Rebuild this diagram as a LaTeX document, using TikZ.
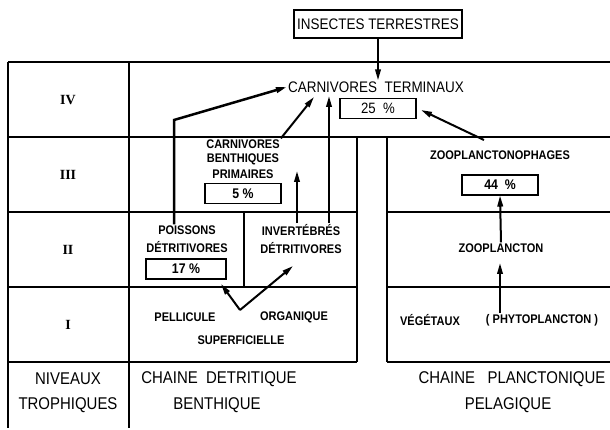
\documentclass[tikz,border=0pt]{standalone}
\usepackage{fontspec}
\setmainfont{Liberation Sans}[FakeStretch=0.88]
\newfontfamily\romfont{Liberation Serif}
\usetikzlibrary{arrows.meta}

\begin{document}
\begin{tikzpicture}[x=1pt,y=-1pt,
        tabline/.style={line width=1.1pt},
        arr/.style={line width=2pt,-{Triangle[length=11pt,width=5.5pt]}},
        big/.style={font=\fontsize{15.3}{17}\selectfont, inner sep=1pt},
        lbl/.style={font=\fontsize{12.5}{14}\selectfont\bfseries, align=center, inner sep=1pt},
        foot/.style={font=\fontsize{17}{19}\selectfont, inner sep=1pt},
        pct/.style={draw, line width=1.1pt, minimum width=76pt, minimum height=20pt, inner sep=1pt,
                    font=\fontsize{14}{15}\selectfont\bfseries},
        lvl/.style={font=\fontsize{14}{16}\romfont\bfseries}]
        \useasboundingbox (0,0) rectangle (610,430);

        \foreach \y in {62,137}
            \draw[tabline] (8,\y) -- (610,\y);
        \foreach \y in {212,287,362} {
            \draw[tabline] (8,\y) -- (357,\y);
            \draw[tabline] (387,\y) -- (610,\y);
        }
        \draw[tabline] (8,62) -- (8,428);
        \draw[tabline] (129,62) -- (129,428);
        \draw[tabline] (357,137) -- (357,362);
        \draw[tabline] (387,137) -- (387,362);
        \draw[tabline] (244,212) -- (244,287);

        \foreach \y/\r [count=\i] in {100/IV,175/III,250/II,325/I}
            \node[lvl] (lv\i) at (68,\y) {\r};

        \node[big, draw, line width=1.1pt, minimum width=168pt, minimum height=28pt] (insect) at (378,24) {INSECTES TERRESTRES};
        \node[big] (cterm) at (376,87) {CARNIVORES\ \ TERMINAUX};
        \node[pct, font=\fontsize{15}{16}\selectfont] (p25) at (378,108.5) {25\ \ \%};

        \node[lbl] (cbp) at (243,159) {CARNIVORES\\BENTHIQUES\\[2pt]PRIMAIRES};
        \node[pct] (p5) at (243,193.5) {5 \%};
        \node[lbl] (poiss) at (187,239) {POISSONS\\[4pt]DÉTRITIVORES};
        \node[pct, minimum width=80pt] (p17) at (186,269) {17 \%};
        \node[lbl] (invert) at (301,239) {INVERTÉBRÉS\\[4pt]DÉTRITIVORES};
        \node[lbl] (pell) at (185,317) {PELLICULE};
        \node[lbl] (organ) at (294,317) {ORGANIQUE};
        \node[lbl] (superf) at (241,340) {SUPERFICIELLE};

        \node[lbl] (zooph) at (500,155) {ZOOPLANCTONOPHAGES};
        \node[pct] (p44) at (500,185) {44\ \ \%};
        \node[lbl] (zoopl) at (501,248) {ZOOPLANCTON};
        \node[lbl] (veget) at (430,320) {VÉGÉTAUX};
        \node[lbl] (phyto) at (542,320) {( PHYTOPLANCTON )};

        \node[foot] (niv) at (68,379) {NIVEAUX};
        \node[foot] (troph) at (68,405) {TROPHIQUES};
        \node[foot] (detr) at (219,379) {CHAINE\ \ DETRITIQUE};
        \node[foot] (benth) at (217,405) {BENTHIQUE};
        \node[foot] (plank) at (512,379) {CHAINE\ \ \ PLANCTONIQUE};
        \node[foot] (pelag) at (508,405) {PELAGIQUE};

        \coordinate (bend) at (174,120);
        \coordinate (tipB) at (314,97);
        \coordinate (tip5) at (297,171);
        \coordinate (tipT) at (329,96);
        \coordinate (src) at (240,310);
        \coordinate (tip17) at (221,284);
        \coordinate (tipI) at (293,266);
        \coordinate (tipZ) at (500,263);
        \coordinate (tailZ) at (484,140);
        \coordinate (tip25) at (421,110);

        \draw[arr] (insect.south) -- (insect.south |- cterm.north);
        \draw[arr, line width=2.5pt] (bend |- poiss.north) -- (bend) -- (cterm.west);
        \draw[arr] (cbp.north east) -- (tipB);
        \draw[arr] (invert.north -| tip5) -- (tip5);
        \draw[arr] (invert.north -| tipT) -- (tipT);
        \draw[arr] (src) -- (tip17);
        \draw[arr] (src) -- (tipI);
        \draw[arr] (zoopl.north) -- (p44.south);
        \draw[arr] (phyto.north -| tipZ) -- (tipZ);
        \draw[arr] (tailZ) -- (tip25);
    \end{tikzpicture}
\end{document}
